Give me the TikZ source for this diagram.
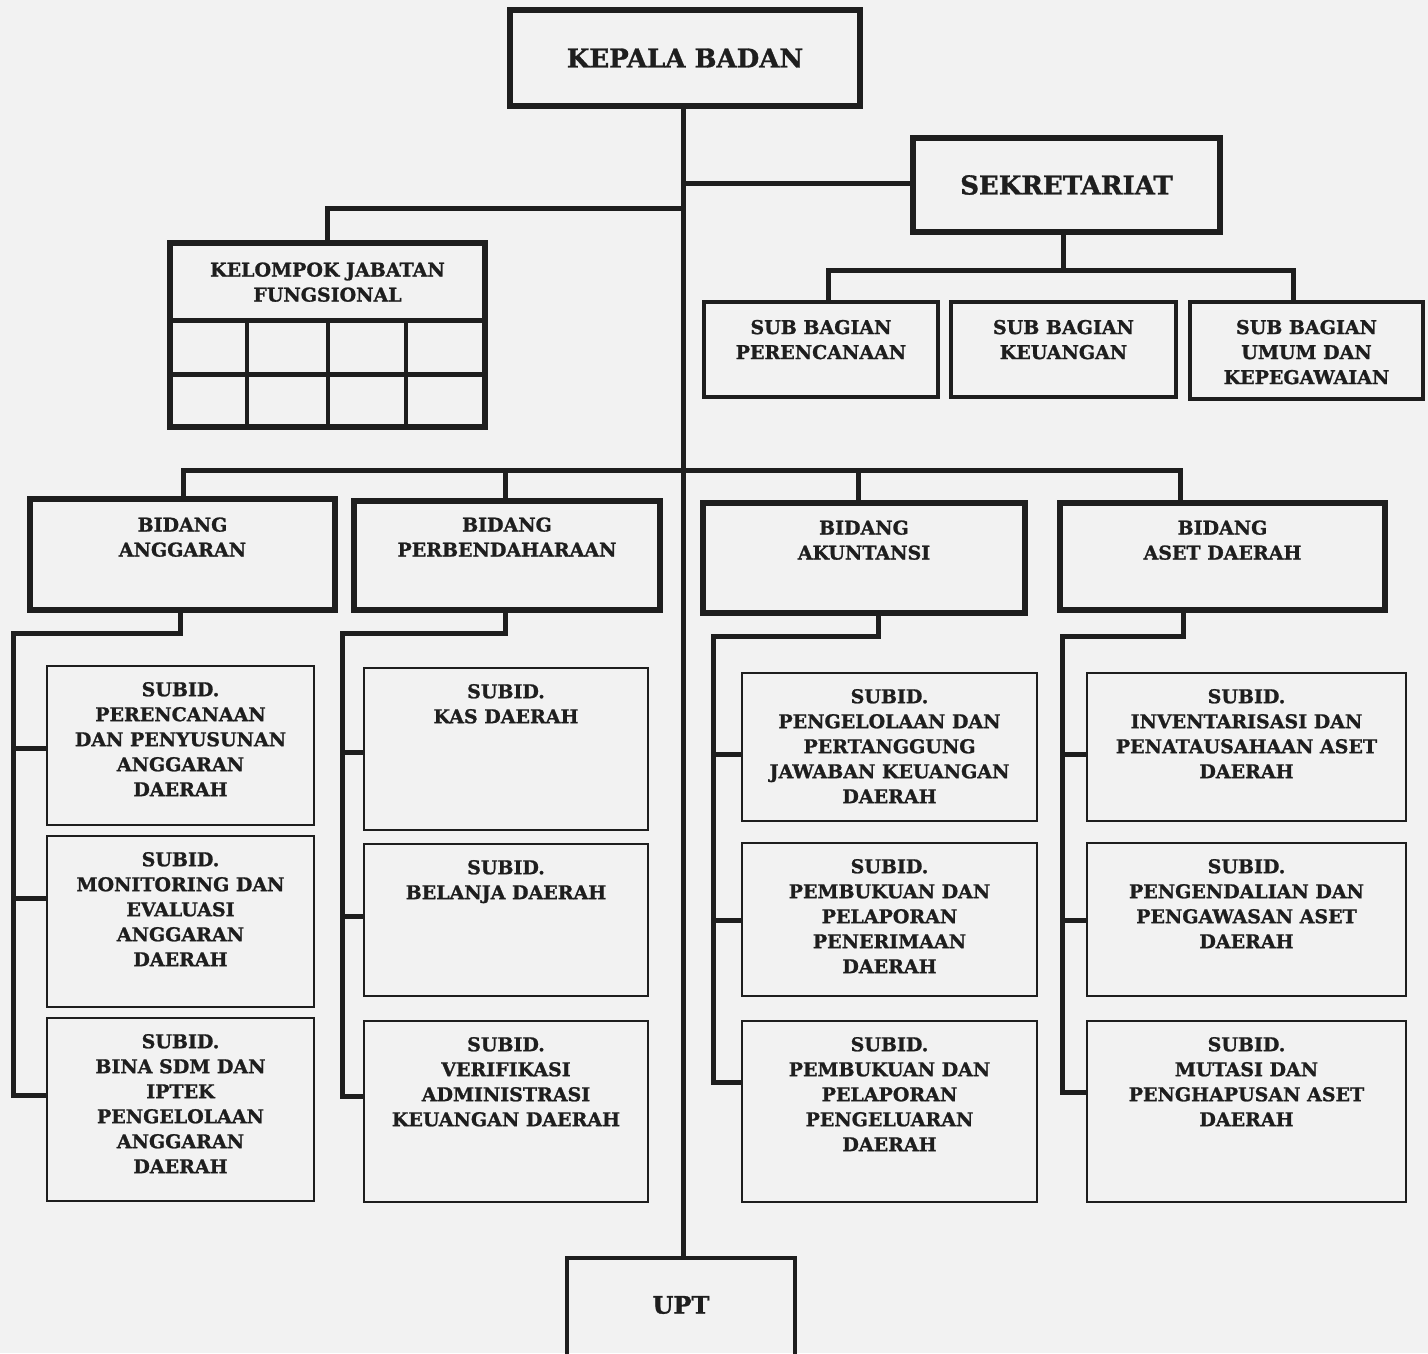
\documentclass[tikz,border=0pt]{standalone}
\usepackage{fontspec}
\setmainfont{DejaVu Serif}[BoldFeatures={FakeBold=1.2}]
\usetikzlibrary{fit}
\definecolor{ink}{HTML}{1E1E1E}
\definecolor{paper}{HTML}{F2F2F2}
\begin{document}
\begin{tikzpicture}[x=1pt,y=-1pt,
  bigbox/.style={draw=ink,line width=5.5pt,inner sep=0pt},
  subbox/.style={draw=ink,line width=2.2pt,inner sep=0pt},
  conn/.style={draw=ink,line width=5pt,line join=miter},
  txt/.style={inner sep=0pt,align=center,text=ink,font=\bfseries\fontsize{19}{25}\selectfont},
  bigtxt/.style={inner sep=0pt,align=center,text=ink,font=\bfseries\fontsize{26}{30}\selectfont}]
\fill[paper] (0,0) rectangle (1428,1353);
\clip (0,0) rectangle (1428,1353);
% ---- top level boxes
\node[bigbox,fit={(510,10) (860,106)}] (kb) {};
\node[bigtxt] (kbt) at (kb.center) {KEPALA BADAN};
\node[bigbox,fit={(913,138) (1220,232)}] (sek) {};
\node[bigtxt] (sekt) at (sek.center) {SEKRETARIAT};
\node[bigbox,line width=4.5pt,fit={(567,1258) (795,1370)}] (upt) {};
\node[bigtxt,font=\bfseries\fontsize{24}{30}\selectfont] (uptt) at (681,1305) {UPT};
% ---- kelompok jabatan fungsional
\node[bigbox,fit={(170,243) (485,427)}] (kjf) {};
\node[txt,anchor=north] (kjft) at ([yshift=-22pt]kjf.north) {KELOMPOK JABATAN\\FUNGSIONAL};
\draw[conn] (kjf.west |- 0,320) -- (kjf.east |- 0,320);
\draw[conn] (kjf.west |- 0,374) -- (kjf.east |- 0,374);
\draw[ink,line width=3.5pt] (247,320) -- (247,427);
\draw[ink,line width=3.5pt] (328,320) -- (328,427);
\draw[ink,line width=3.5pt] (406,320) -- (406,427);
% ---- sub bagian
\node[bigbox,line width=4.5pt,fit={(704,302) (938,397)}] (sb1) {};
\node[bigbox,line width=4.5pt,fit={(951,302) (1176,397)}] (sb2) {};
\node[bigbox,line width=4.5pt,fit={(1190,302) (1423,399)}] (sb3) {};
\node[txt,anchor=north] (sb1t) at ([yshift=-20pt]sb1.north) {SUB BAGIAN\\PERENCANAAN};
\node[txt,anchor=north] (sb2t) at ([yshift=-20pt]sb2.north) {SUB BAGIAN\\KEUANGAN};
\node[txt,anchor=north] (sb3t) at ([yshift=-20pt]sb3.north) {SUB BAGIAN\\UMUM DAN\\KEPEGAWAIAN};
% ---- bidang
\node[bigbox,fit={(30,499) (335,610)}] (ba) {};
\node[bigbox,fit={(354,501) (660,610)}] (bp) {};
\node[bigbox,fit={(703,503) (1025,613)}] (bk) {};
\node[bigbox,fit={(1060,503) (1385,610)}] (bs) {};
\node[txt,anchor=north] (bat) at ([yshift=-21pt]ba.north) {BIDANG\\ANGGARAN};
\node[txt,anchor=north] (bpt) at ([yshift=-19pt]bp.north) {BIDANG\\PERBENDAHARAAN};
\node[txt,anchor=north] (bkt) at ([yshift=-20pt]bk.north) {BIDANG\\AKUNTANSI};
\node[txt,anchor=north] (bst) at ([yshift=-20pt]bs.north) {BIDANG\\ASET DAERAH};
% ---- subid boxes
\node[subbox,fit={(47,666) (314,825)}] (a1) {};
\node[subbox,fit={(47,836) (314,1007)}] (a2) {};
\node[subbox,fit={(47,1018) (314,1201)}] (a3) {};
\node[subbox,fit={(364,668) (648,830)}] (b1) {};
\node[subbox,fit={(364,844) (648,996)}] (b2) {};
\node[subbox,fit={(364,1021) (648,1202)}] (b3) {};
\node[subbox,fit={(742,673) (1037,821)}] (c1) {};
\node[subbox,fit={(742,843) (1037,996)}] (c2) {};
\node[subbox,fit={(742,1021) (1037,1202)}] (c3) {};
\node[subbox,fit={(1087,673) (1406,821)}] (d1) {};
\node[subbox,fit={(1087,843) (1406,996)}] (d2) {};
\node[subbox,fit={(1087,1021) (1406,1202)}] (d3) {};
\tikzset{stxt/.style={txt,anchor=north,yshift=-17pt}}
\node[stxt] (a1t) at (a1.north) {SUBID.\\PERENCANAAN\\DAN PENYUSUNAN\\ANGGARAN\\DAERAH};
\node[stxt] (a2t) at (a2.north) {SUBID.\\MONITORING DAN\\EVALUASI\\ANGGARAN\\DAERAH};
\node[stxt] (a3t) at (a3.north) {SUBID.\\BINA SDM DAN\\IPTEK\\PENGELOLAAN\\ANGGARAN\\DAERAH};
\node[stxt] (b1t) at (b1.north) {SUBID.\\KAS DAERAH};
\node[stxt] (b2t) at (b2.north) {SUBID.\\BELANJA DAERAH};
\node[stxt] (b3t) at (b3.north) {SUBID.\\VERIFIKASI\\ADMINISTRASI\\KEUANGAN DAERAH};
\node[stxt] (c1t) at (c1.north) {SUBID.\\PENGELOLAAN DAN\\PERTANGGUNG\\JAWABAN KEUANGAN\\DAERAH};
\node[stxt] (c2t) at (c2.north) {SUBID.\\PEMBUKUAN DAN\\PELAPORAN\\PENERIMAAN\\DAERAH};
\node[stxt] (c3t) at (c3.north) {SUBID.\\PEMBUKUAN DAN\\PELAPORAN\\PENGELUARAN\\DAERAH};
\node[stxt] (d1t) at (d1.north) {SUBID.\\INVENTARISASI DAN\\PENATAUSAHAAN ASET\\DAERAH};
\node[stxt] (d2t) at (d2.north) {SUBID.\\PENGENDALIAN DAN\\PENGAWASAN ASET\\DAERAH};
\node[stxt] (d3t) at (d3.north) {SUBID.\\MUTASI DAN\\PENGHAPUSAN ASET\\DAERAH};
% ---- connectors
\coordinate (spine) at (683,0);
\draw[conn] (kb.south -| spine) -- (upt.north -| spine);
\draw[conn] (spine |- 0,183) -- (sek.west |- 0,183);
\draw[conn] (spine |- 0,208) -| (kjf.north);
% sekretariat to sub bagian
\draw[conn] (sek.south -| 1063,0) -- (1063,270);
\draw[conn] (sb1.north -| 828,0) -- (828,270) -- (1293,270) -- (sb3.north -| 1293,0);
% bidang bus
\draw[conn] (ba.north -| 183,0) -- (183,470) -- (1180,470) -- (bs.north -| 1180,0);
\draw[conn] (505,470) -- (bp.north -| 505,0);
\draw[conn] (858,470) -- (bk.north -| 858,0);
% anggaran
\draw[conn] (ba.south -| 180,0) -- (180,633) -- (13,633) -- (13,1095) -- (a3.west |- 0,1095);
\draw[conn] (13,748) -- (a1.west |- 0,748);
\draw[conn] (13,898) -- (a2.west |- 0,898);
% perbendaharaan
\draw[conn] (bp.south -| 505,0) -- (505,633) -- (342,633) -- (342,1096) -- (b3.west |- 0,1096);
\draw[conn] (342,752) -- (b1.west |- 0,752);
\draw[conn] (342,916) -- (b2.west |- 0,916);
% akuntansi
\draw[conn] (bk.south -| 878,0) -- (878,636) -- (713,636) -- (713,1082) -- (c3.west |- 0,1082);
\draw[conn] (713,754) -- (c1.west |- 0,754);
\draw[conn] (713,920) -- (c2.west |- 0,920);
% aset
\draw[conn] (bs.south -| 1183,0) -- (1183,636) -- (1062,636) -- (1062,1092) -- (d3.west |- 0,1092);
\draw[conn] (1062,754) -- (d1.west |- 0,754);
\draw[conn] (1062,920) -- (d2.west |- 0,920);
\end{tikzpicture}
\end{document}
